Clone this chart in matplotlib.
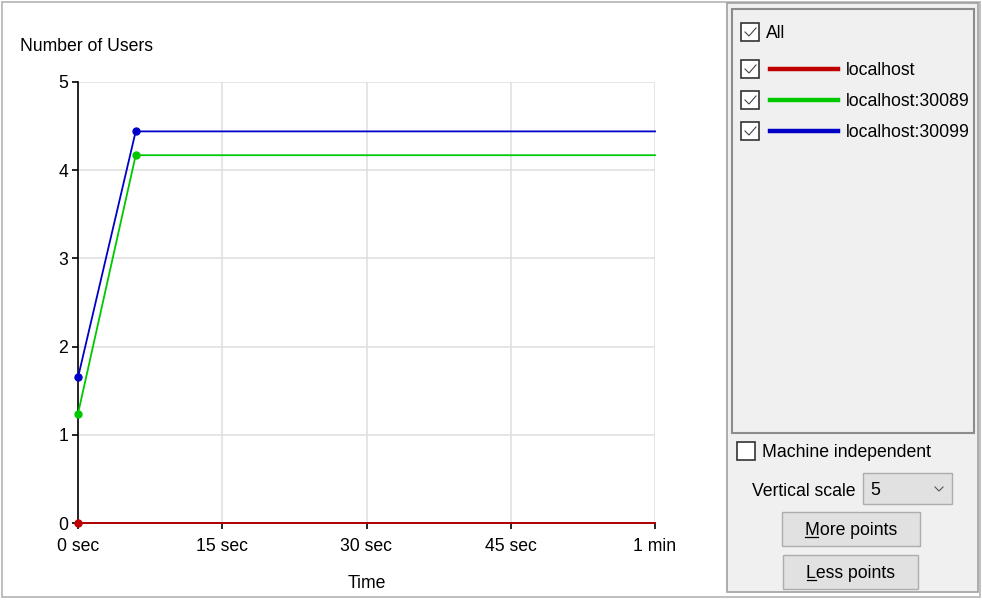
import matplotlib.pyplot as plt
from matplotlib.patches import Rectangle
from matplotlib.lines import Line2D

plt.rcParams['font.family'] = ['Liberation Sans', 'DejaVu Sans']

# data
time_sec = [0, 6, 60]
hosts = ['localhost', 'localhost:30089', 'localhost:30099']
users_local = [0, 0, 0]
users_30089 = [1.24, 4.17, 4.17]
users_30099 = [1.65, 4.44, 4.44]
colors = ['#c00000', '#00c800', '#0000c8']
x_ticks = [0, 15, 30, 45, 60]
x_labels = ['0 sec', '15 sec', '30 sec', '45 sec', '1 min']
y_ticks = [0, 1, 2, 3, 4, 5]

FS = 12.7
W, H = 982, 600
fig = plt.figure(figsize=(W / 100, H / 100), dpi=100)
fig.patch.set_facecolor('white')


def fx(px):
    return px / W


def fy(py):
    return 1 - py / H


def rect(x0, y0, x1, y1, fc, ec, lw=1.0):
    r = Rectangle((fx(x0), fy(y1)), fx(x1) - fx(x0), fy(y0) - fy(y1),
                  transform=fig.transFigure, facecolor=fc, edgecolor=ec, lw=lw)
    fig.add_artist(r)


def line(xs, ys, color, lw=1.0):
    fig.add_artist(Line2D([fx(x) for x in xs], [fy(y) for y in ys],
                          transform=fig.transFigure, color=color, lw=lw))


def text(x, y, s, **kw):
    fig.text(fx(x), fy(y + 1.5), s, fontsize=FS, va='center', **kw)


def checkbox(x, y, checked=True):
    rect(x, y - 9, x + 18, y + 9, 'white', '#333333', 1.2)
    if checked:
        line([x + 4, x + 8, x + 15], [y, y + 4, y - 4], '#444444', 0.8)


# outer frame
rect(2, 2, 980, 597, 'none', '#b4b4b4', 1.2)

# plot
ax = fig.add_axes([fx(78), fy(523), fx(655) - fx(78), fy(82) - fy(523)])
series = [users_local, users_30089, users_30099]
marks = [[0], [0, 1], [0, 1]]
for vals, c, m in zip(series, colors, marks):
    ax.plot(time_sec, vals, color=c, lw=1.3, marker='o', markersize=5,
            markevery=m, clip_on=False, zorder=3)
ax.set_xlim(0, 60)
ax.set_ylim(0, 5)
ax.set_xticks(x_ticks)
ax.set_xticklabels(x_labels)
ax.set_yticks(y_ticks)
ax.grid(True, color='#e0e0e0', lw=1.2)
ax.set_axisbelow(True)
for s in ['top', 'right']:
    ax.spines[s].set_visible(False)
ax.spines['left'].set_linewidth(1.2)
ax.spines['bottom'].set_linewidth(1.2)
ax.tick_params(length=4, width=1.2, labelsize=FS)
ax.tick_params(axis='x', pad=7)
ax.tick_params(axis='y', pad=3)
ax.set_xlabel('Time', fontsize=FS, labelpad=14)
text(20, 45, 'Number of Users')

# right panel
rect(727, 3, 978, 592, '#f0f0f0', '#a0a0a0', 1.2)
rect(732, 9, 974, 433, '#f0f0f0', '#8c8c8c', 1.5)

checkbox(741, 32)
text(766, 32, 'All')
for i, (h, c) in enumerate(zip(hosts, colors)):
    y = 69 + i * 31
    checkbox(741, y)
    line([770, 838], [y, y], c, 3.2)
    text(846, y, h)

checkbox(737, 451, checked=False)
text(762, 451, 'Machine independent')

text(752, 490, 'Vertical scale')
rect(863, 473, 952, 504, '#e1e1e1', '#adadad', 1.0)
text(870, 489, '5')
line([935, 939, 943], [487, 491, 487], '#555555', 0.8)

rect(782, 512, 920, 546, '#e1e1e1', '#adadad', 1.0)
text(851, 529, 'More points', ha='center')
line([805, 818], [537, 537], 'black', 0.9)
rect(783, 555, 918, 589, '#e1e1e1', '#adadad', 1.0)
text(851, 572, 'Less points', ha='center')
line([807, 816], [580, 580], 'black', 0.9)

fig.savefig('out.png', dpi=100)
